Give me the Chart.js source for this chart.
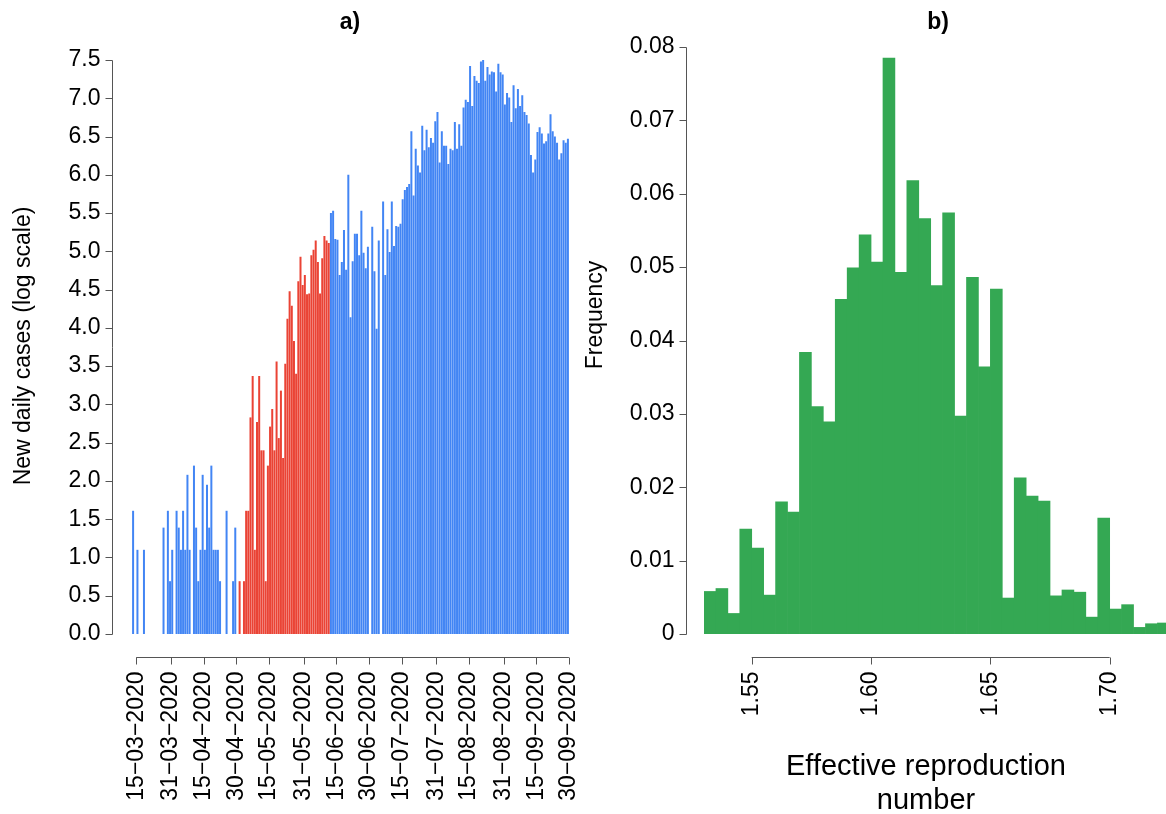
<!DOCTYPE html>
<html>
<head>
<meta charset="utf-8">
<title>New daily cases and effective reproduction number</title>
<script src="https://cdn.jsdelivr.net/npm/chart.js@4.4.1/dist/chart.umd.min.js"></script>
<style>
    html, body { margin: 0; padding: 0; background: #fff; }
    #wrap { position: relative; width: 1166px; height: 814px; overflow: hidden; }
    canvas { position: absolute; top: 0; }
    #casesChart { left: 0; }
    #reproChart { left: 580px; }
</style>
</head>
<body>
<div id="wrap">
    <canvas id="casesChart" width="580" height="814"></canvas>
    <canvas id="reproChart" width="586" height="814"></canvas>
</div>
<script>
// ---- panel a: log of new daily cases, one bar per day from 14-03-2020 ----
const firstDay = [2020, 2, 14]; // year, month (0-based), day
const logCases = [
    1.61, null, 1.10, null, null, 1.10, null, null, null, null,
    null, null, null, null, 1.39, null, 1.61, 0.69, 1.10, null,
    1.61, 1.39, 1.10, 1.61, 1.10, 2.08, 1.10, null, 2.20, 1.39,
    0.69, 1.10, 2.08, 1.10, 1.95, 1.39, 2.20, 1.10, 1.10, 1.10,
    0.69, null, null, 1.61, null, null, 0.69, 1.39, null, 0.69,
    null, 0.69, 1.61, 1.61, 2.83, 3.37, 1.10, 2.77, 3.37, 2.40,
    2.40, 0.69, 2.20, 2.71, 2.94, 2.40, 3.56, 2.56, 3.18, 2.30,
    3.53, 4.12, 4.48, 4.29, 3.83, 3.40, 4.61, 4.93, 4.56, 4.69,
    4.44, 4.45, 4.95, 5.02, 5.14, 4.86, 4.45, 4.91, 5.20, 5.14,
    5.11, 5.50, 5.53, 5.16, 5.15, 4.69, 4.86, 5.28, 4.76, 6.00,
    4.14, 4.87, 5.23, 5.23, 4.95, 5.53, 4.98, 4.78, 5.06, null,
    5.32, 4.74, 3.99, 5.14, null, 5.65, 4.69, 5.29, 4.99, 5.65,
    5.07, 5.33, 5.32, 5.36, 5.68, 5.80, 5.84, 5.88, 6.57, 5.73,
    6.34, 6.12, 6.03, 6.64, 6.32, 6.59, 6.36, 6.48, 6.42, 6.70,
    6.82, 6.16, 6.57, 6.38, 6.38, 6.14, 6.34, 6.32, 6.69, 6.34,
    6.66, 6.38, 6.88, 6.98, 6.95, 7.42, 6.90, 7.29, 7.23, 7.20,
    7.48, 7.51, 7.23, 7.41, 7.31, 7.35, 7.34, 7.09, 7.45, 7.34,
    7.31, 6.92, 7.07, 7.01, 6.69, 7.17, 6.87, 7.12, 6.90, 7.04,
    6.82, 6.78, 6.67, 6.26, 6.03, 6.20, 6.56, 6.62, 6.54, 6.41,
    6.44, 6.54, 6.79, 6.57, 6.50, 6.42, 6.20, 6.28, 6.45, 6.42,
    6.47
];
const redPeriod = ['02-05-2020', '12-06-2020'];
const dateTicks = [
    '15-03-2020', '31-03-2020', '15-04-2020', '30-04-2020', '15-05-2020',
    '31-05-2020', '15-06-2020', '30-06-2020', '15-07-2020', '31-07-2020',
    '15-08-2020', '31-08-2020', '15-09-2020', '30-09-2020'
];
const caseTicks = [0, 0.5, 1, 1.5, 2, 2.5, 3, 3.5, 4, 4.5, 5, 5.5, 6, 6.5, 7, 7.5];

// ---- panel b: histogram of the effective reproduction number ----
const binStart = 1.53;
const binWidth = 0.005;
const frequency = [
    0.0058, 0.0062, 0.0028, 0.0143, 0.0117, 0.0053, 0.0180, 0.0166, 0.0384, 0.0310,
    0.0289, 0.0456, 0.0499, 0.0544, 0.0507, 0.0785, 0.0493, 0.0618, 0.0566, 0.0475,
    0.0574, 0.0297, 0.0486, 0.0364, 0.0470, 0.0049, 0.0213, 0.0188, 0.0181, 0.0052,
    0.0060, 0.0057, 0.0023, 0.0158, 0.0034, 0.0040, 0.0009, 0.0014, 0.0015
];
const reproTicks = [1.55, 1.60, 1.65, 1.70];
const freqTicks = [0, 0.01, 0.02, 0.03, 0.04, 0.05, 0.06, 0.07, 0.08];

const BLUE = '#4285F4';
const RED = '#EA4335';
const GREEN = '#34A853';
const FONT = '"Liberation Sans", Arial, Helvetica, sans-serif';

function dayLabel(i) {
    const d = new Date(Date.UTC(firstDay[0], firstDay[1], firstDay[2] + i));
    const dd = String(d.getUTCDate()).padStart(2, '0');
    const mm = String(d.getUTCMonth() + 1).padStart(2, '0');
    return dd + '-' + mm + '-' + d.getUTCFullYear();
}

const dayLabels = logCases.map((v, i) => dayLabel(i));
const redFrom = dayLabels.indexOf(redPeriod[0]);
const redTo = dayLabels.indexOf(redPeriod[1]);
const caseColors = dayLabels.map((d, i) => (i >= redFrom && i <= redTo) ? RED : BLUE);

// R-style detached axes, drawn from the chart's own scales
const rAxes = {
    id: 'rAxes',
    afterDraw(chart, args, opts) {
        const ctx = chart.ctx;
        const ys = chart.scales.y;
        ctx.save();
        ctx.strokeStyle = '#555';
        ctx.lineWidth = 1;
        ctx.fillStyle = '#000';
        ctx.font = '23px ' + FONT;

        // y axis
        const ax = opts.yAxisX + 0.5;
        const yTop = ys.getPixelForValue(opts.yTicks[opts.yTicks.length - 1]);
        const yBot = ys.getPixelForValue(opts.yTicks[0]);
        ctx.beginPath();
        ctx.moveTo(ax, Math.round(yTop) + 0.5);
        ctx.lineTo(ax, Math.round(yBot) + 0.5);
        opts.yTicks.forEach(v => {
            const py = Math.round(ys.getPixelForValue(v)) + 0.5;
            ctx.moveTo(ax - 7, py);
            ctx.lineTo(ax, py);
        });
        ctx.stroke();
        ctx.textAlign = 'right';
        ctx.textBaseline = 'middle';
        opts.yTicks.forEach(v => ctx.fillText(opts.yFormat(v), ax - 12, ys.getPixelForValue(v)));

        // x axis
        const ay = opts.xAxisY + 0.5;
        const xt = opts.xTicks(chart);
        ctx.beginPath();
        ctx.moveTo(xt[0].x, ay);
        ctx.lineTo(xt[xt.length - 1].x, ay);
        xt.forEach(t => {
            const px = Math.round(t.x) + 0.5;
            ctx.moveTo(px, ay);
            ctx.lineTo(px, ay + 7);
        });
        ctx.stroke();
        xt.forEach(t => {
            ctx.save();
            ctx.translate(t.x, ay + 14);
            ctx.rotate(-Math.PI / 2);
            ctx.textAlign = 'right';
            ctx.textBaseline = 'middle';
            ctx.fillText(t.label, 0, 0);
            ctx.restore();
        });

        // panel title
        ctx.textAlign = 'center';
        ctx.textBaseline = 'middle';
        ctx.font = 'bold 23px ' + FONT;
        ctx.fillText(opts.title.text, opts.title.x, opts.title.y);

        // y axis title
        ctx.font = '23px ' + FONT;
        ctx.save();
        ctx.translate(opts.yTitle.x, opts.yTitle.y);
        ctx.rotate(-Math.PI / 2);
        ctx.fillText(opts.yTitle.text, 0, 0);
        ctx.restore();

        // x axis title
        if (opts.xTitle) {
            ctx.font = opts.xTitle.size + 'px ' + FONT;
            opts.xTitle.lines.forEach((line, k) => {
                ctx.fillText(line, opts.xTitle.x, opts.xTitle.y + k * opts.xTitle.lineHeight);
            });
        }
        ctx.restore();
    }
};

// Daily cases chart
new Chart(document.getElementById('casesChart').getContext('2d'), {
    type: 'bar',
    data: {
        labels: dayLabels,
        datasets: [{
            data: logCases,
            backgroundColor: caseColors,
            borderWidth: 0,
            inflateAmount: 0,
            barPercentage: 0.92,
            categoryPercentage: 1
        }]
    },
    options: {
        responsive: false,
        animation: false,
        layout: { padding: { left: 132, right: 11, top: 60, bottom: 180 } },
        scales: {
            x: { display: false, offset: true },
            y: { display: false, min: 0, max: 7.5 }
        },
        plugins: {
            legend: { display: false },
            tooltip: { enabled: false },
            rAxes: {
                yAxisX: 112,
                yTicks: caseTicks,
                yFormat: v => v.toFixed(1),
                xAxisY: 657,
                xTicks: chart => {
                    const bars = chart.getDatasetMeta(0).data;
                    return dateTicks.map(d => {
                        const bar = bars[dayLabels.indexOf(d)];
                        return { x: bar.x + bar.width / 2, label: d.replace(/-/g, '\u2212') };
                    });
                },
                title: { text: 'a)', x: 350, y: 23 },
                yTitle: { text: 'New daily cases (log scale)', x: 24, y: 346 }
            }
        }
    },
    plugins: [rAxes]
});

// Effective reproduction number histogram
new Chart(document.getElementById('reproChart').getContext('2d'), {
    type: 'bar',
    data: {
        datasets: [{
            data: frequency.map((f, k) => ({ x: binStart + (k + 0.5) * binWidth, y: f })),
            backgroundColor: GREEN,
            borderWidth: 0,
            barPercentage: 1,
            categoryPercentage: 1
        }]
    },
    options: {
        responsive: false,
        animation: false,
        layout: { padding: { left: 124, right: 0, top: 47, bottom: 180 } },
        scales: {
            x: { type: 'linear', display: false, offset: false, min: 1.53, max: 1.7236 },
            y: { display: false, min: 0, max: 0.08 }
        },
        plugins: {
            legend: { display: false },
            tooltip: { enabled: false },
            rAxes: {
                yAxisX: 106,
                yTicks: freqTicks,
                yFormat: v => v === 0 ? '0' : v.toFixed(2),
                xAxisY: 657,
                xTicks: chart => reproTicks.map(v => ({
                    x: chart.scales.x.getPixelForValue(v),
                    label: v.toFixed(2)
                })),
                title: { text: 'b)', x: 358, y: 23 },
                yTitle: { text: 'Frequency', x: 16, y: 315 },
                xTitle: { lines: ['Effective reproduction', 'number'], x: 346, y: 767, lineHeight: 34, size: 29 }
            }
        }
    },
    plugins: [rAxes]
});
</script>
</body>
</html>
